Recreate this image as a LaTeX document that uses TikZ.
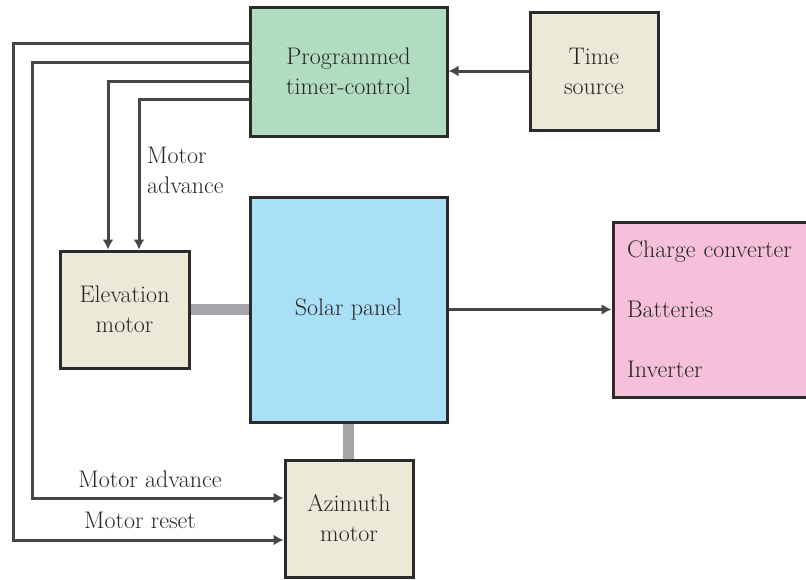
\documentclass[tikz,border=0pt]{standalone}
\usetikzlibrary{arrows.meta}
\definecolor{boxline}{HTML}{2B2B2B}
\definecolor{sigline}{HTML}{474747}
\definecolor{barcol}{HTML}{A6A6AA}
\definecolor{greenfill}{HTML}{B2DCC0}
\definecolor{beigefill}{HTML}{EDE9D8}
\definecolor{bluefill}{HTML}{AADFF8}
\definecolor{pinkfill}{HTML}{F6BFDA}
\definecolor{txt}{HTML}{252525}
\begin{document}
\begin{tikzpicture}[x=1pt,y=-1pt,
  box/.style={draw=boxline, line width=3pt, inner sep=0pt, align=center,
    text=txt, font=\fontsize{24}{30}\selectfont},
  sig/.style={line width=3pt, draw=sigline},
  arr/.style={sig, -{Latex[length=10pt,width=11pt]}},
  bar/.style={line width=11pt, draw=barcol},
  lbl/.style={text=txt, inner sep=0pt, font=\fontsize{24}{30}\selectfont}]
\useasboundingbox (0,0) rectangle (806,579);
\clip (0,0) rectangle (806,579);

\node[box, fill=greenfill, minimum width=197pt, minimum height=129pt] (timer) at (348.5,71.5) {Programmed\\timer-control};
\node[box, fill=beigefill, minimum width=128pt, minimum height=118pt] (time) at (594,71) {Time\\source};
\node[box, fill=beigefill, minimum width=129pt, minimum height=117pt] (elev) at (124.5,309.5) {Elevation\\motor};
\node[box, fill=bluefill, minimum width=197pt, minimum height=225pt] (solar) at (348.5,309.5) {Solar panel};
\node[box, fill=pinkfill, minimum width=200pt, minimum height=175pt, align=left,
  text width=180pt, inner xsep=14pt, font=\fontsize{24}{60}\selectfont] (charge) at (717,309.5)
  {Charge converter\\Batteries\\Inverter};
\node[box, fill=beigefill, minimum width=128pt, minimum height=117pt] (az) at (349,518.5) {Azimuth\\motor};

% signal lines
\draw[arr] (time.west) -- (timer.east |- time.west);
\draw[arr] (timer.west |- 0,43) -- (13,43) |- (az.west |- 0,540);
\draw[arr] (timer.west |- 0,62) -- (32,62) |- (az.west |- 0,498);
\draw[arr] (timer.west |- 0,81) -| (elev.north -| 108,0);
\draw[arr] (timer.west |- 0,99) -| (elev.north -| 139,0);
\draw[arr] (solar.east) -- (charge.west);

% mechanical links
\draw[bar] (elev.east) -- (solar.west |- elev.east);
\draw[bar] (solar.south) -- (solar.south |- az.north);

% labels
\node[lbl, anchor=north west, align=left] (lma) at (147,147) {Motor\\advance};
\node[lbl, anchor=base] (lmb) at (150,487) {Motor advance};
\node[lbl, anchor=base] (lmr) at (140,528) {Motor reset};
\end{tikzpicture}
\end{document}
